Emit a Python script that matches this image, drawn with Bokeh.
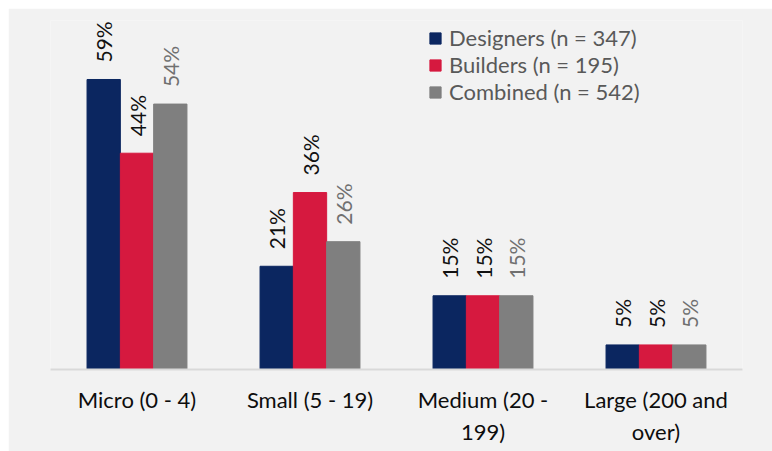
from bokeh.plotting import figure
from bokeh.models import ColumnDataSource, FactorRange, Legend, LegendItem
from bokeh.transform import dodge
from bokeh.core.properties import value
from bokeh.embed import file_html
from bokeh.resources import INLINE
from math import pi

categories = ["Micro (0 - 4)", "Small (5 - 19)", "Medium (20 -\n199)", "Large (200 and\nover)"]
designers = [59, 21, 15, 5]
builders = [44, 36, 15, 5]
combined = [54, 26, 15, 5]
series_names = ["Designers (n = 347)", "Builders (n = 195)", "Combined (n = 542)"]
series_values = [designers, builders, combined]
colors = ["#0b2660", "#d6193f", "#7f7f7f"]
label_colors = ["#111111", "#111111", "#707070"]

FONT = "Lato"
BW = 0.1925

p = figure(width=764, height=443,
           x_range=FactorRange(*categories, range_padding=0),
           y_range=(0, 71),
           y_axis_location=None,
           output_backend="svg", toolbar_location=None,
           min_border_left=42, min_border_right=30,
           min_border_top=12, min_border_bottom=82)
p.margin = (8, 0, 0, 8)
p.background_fill_color = "#f2f2f2"
p.border_fill_color = "#f2f2f2"
p.outline_line_color = None
p.xgrid.grid_line_color = None
p.ygrid.grid_line_color = None

items = []
offsets = [-BW, 0, BW]
for name, vals, col, lcol, off in zip(series_names, series_values, colors, label_colors, offsets):
    src = ColumnDataSource(dict(cat=categories, val=vals, lbl=[f"{v}%" for v in vals]))
    r = p.vbar(x=dodge("cat", off, range=p.x_range), top="val", width=BW, source=src,
               fill_color=col, line_color=col)
    p.text(x=dodge("cat", off, range=p.x_range), y="val", text="lbl", source=src,
           angle=pi / 2, text_align="left", text_baseline="middle", y_offset=-17,
           text_font=value(FONT), text_font_size="21px", text_color=lcol)
    items.append(LegendItem(label=name, renderers=[r]))

ax = p.xaxis[0]
ax.axis_line_color = "#d9d9d9"
ax.axis_line_width = 2
ax.major_tick_line_color = None
ax.minor_tick_line_color = None
ax.major_label_text_font = FONT
ax.major_label_text_font_size = "22px"
ax.major_label_text_color = "#0d0d0d"
ax.major_label_standoff = 10
ax.major_label_text_line_height = 1.2

legend = Legend(items=items, location=(378, 264), orientation="vertical",
                glyph_width=14, glyph_height=14, label_height=20,
                label_text_font=FONT, label_text_font_size="22px",
                label_text_line_height=1.0,
                label_text_color="#595959", padding=0, margin=0, spacing=0,
                label_standoff=7, border_line_color=None,
                background_fill_alpha=0)
p.add_layout(legend)

open("out.html", "w").write(file_html(p, INLINE))
